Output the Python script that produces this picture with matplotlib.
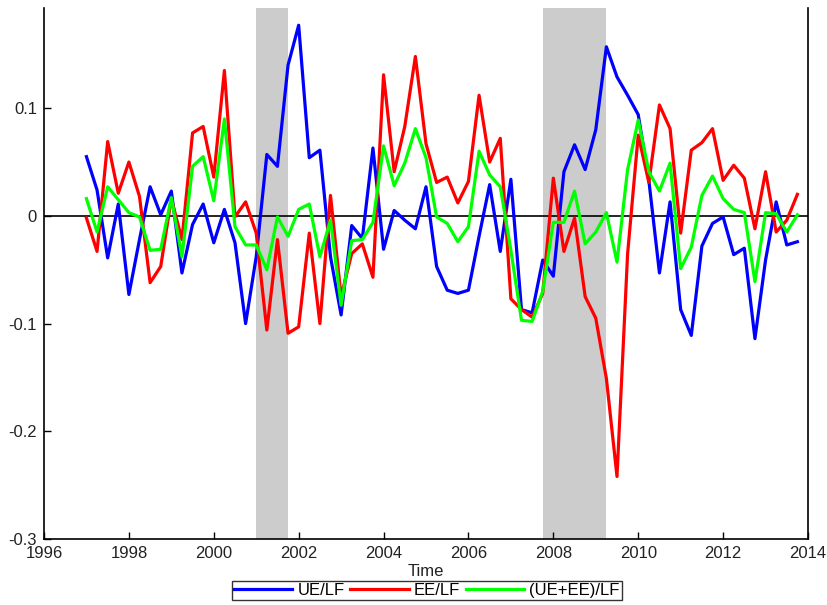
import numpy as np
import matplotlib
matplotlib.use("Agg")
import matplotlib.pyplot as plt

plt.rcParams['font.family'] = ['Liberation Sans', 'DejaVu Sans']

start_year = 1997.0
ue_lf = [0.055, 0.024, -0.039, 0.011, -0.073, -0.022, 0.027, 0.001, 0.023, -0.053,
         -0.008, 0.011, -0.025, 0.006, -0.025, -0.100, -0.038, 0.057, 0.046, 0.140,
         0.177, 0.054, 0.061, -0.038, -0.092, -0.009, -0.021, 0.063, -0.031, 0.005,
         -0.004, -0.012, 0.027, -0.047, -0.069, -0.072, -0.069, -0.019, 0.029, -0.033,
         0.034, -0.087, -0.090, -0.041, -0.056, 0.041, 0.066, 0.043, 0.080, 0.157,
         0.129, 0.112, 0.094, 0.033, -0.053, 0.013, -0.087, -0.111, -0.028, -0.007,
         -0.001, -0.036, -0.030, -0.114, -0.041, 0.013, -0.027, -0.024]
ee_lf = [-0.002, -0.033, 0.069, 0.021, 0.050, 0.018, -0.062, -0.047, 0.016, -0.022,
         0.077, 0.083, 0.036, 0.135, -0.001, 0.013, -0.016, -0.106, -0.022, -0.109,
         -0.103, -0.016, -0.100, 0.019, -0.075, -0.035, -0.026, -0.057, 0.131, 0.041,
         0.083, 0.148, 0.067, 0.031, 0.036, 0.012, 0.032, 0.112, 0.050, 0.072,
         -0.077, -0.087, -0.094, -0.072, 0.035, -0.033, -0.002, -0.075, -0.095, -0.151,
         -0.242, -0.035, 0.075, 0.031, 0.103, 0.081, -0.016, 0.061, 0.068, 0.081,
         0.033, 0.047, 0.035, -0.012, 0.041, -0.015, -0.004, 0.020]
ueee_lf = [0.016, -0.015, 0.027, 0.015, 0.003, -0.001, -0.032, -0.031, 0.017, -0.038,
           0.046, 0.055, 0.014, 0.090, -0.010, -0.027, -0.027, -0.050, -0.001, -0.019,
           0.006, 0.011, -0.038, -0.004, -0.083, -0.023, -0.022, -0.006, 0.065, 0.028,
           0.049, 0.081, 0.054, -0.001, -0.007, -0.024, -0.010, 0.060, 0.038, 0.027,
           -0.032, -0.097, -0.098, -0.070, -0.006, -0.006, 0.023, -0.026, -0.015, 0.003,
           -0.043, 0.043, 0.089, 0.041, 0.023, 0.049, -0.049, -0.029, 0.019, 0.037,
           0.016, 0.006, 0.003, -0.061, 0.003, 0.002, -0.015, 0.001]
recessions = [(2001.0, 2001.75), (2007.75, 2009.25)]
labels = ['UE/LF', 'EE/LF', '(UE+EE)/LF']
colors = ['#0000ff', '#ff0000', '#00ff00']
xticks = [1996, 1998, 2000, 2002, 2004, 2006, 2008, 2010, 2012, 2014]
yticks = [-0.3, -0.2, -0.1, 0, 0.1]
yticklabels = ['-0.3', '-0.2', '-0.1', '0', '0.1']

t = start_year + 0.25 * np.arange(len(ue_lf))

fig = plt.figure(figsize=(8.28, 6.05), dpi=100)
ax = fig.add_axes([44/828, 66/605, 764/828, 531/605])

for a, b in recessions:
    ax.axvspan(a, b, color='#cccccc', lw=0, zorder=0)
ax.axhline(0, color='black', lw=1.2, zorder=1)

handles = []
for y, lab, c in zip([ue_lf, ee_lf, ueee_lf], labels, colors):
    h, = ax.plot(t, y, color=c, lw=2.3, label=lab, zorder=2)
    handles.append(h)

ax.set_xlim(1996, 2014)
ax.set_ylim(-0.3, 0.193)
ax.set_xticks(xticks)
ax.set_yticks(yticks)
ax.set_yticklabels(yticklabels)
ax.tick_params(direction='in', length=5, width=1, labelsize=12, pad=5,
               top=False, right=False, colors='black', labelcolor='#222222')
ax.spines['top'].set_visible(False)
for s in ['left', 'bottom', 'right']:
    ax.spines[s].set_linewidth(1.2)
ax.set_xlabel('Time', fontsize=12, labelpad=2, color='#222222')

leg = fig.legend(handles=handles, labels=labels, loc='upper center',
                 bbox_to_anchor=(0.5155, 24/605), ncol=3, fontsize=12,
                 handlelength=3.5, handletextpad=0.3, columnspacing=0.35,
                 frameon=True, fancybox=False, borderpad=0.12, borderaxespad=0)
leg.get_frame().set_edgecolor('black')
leg.get_frame().set_linewidth(1.0)

fig.savefig('out.png', dpi=100)
